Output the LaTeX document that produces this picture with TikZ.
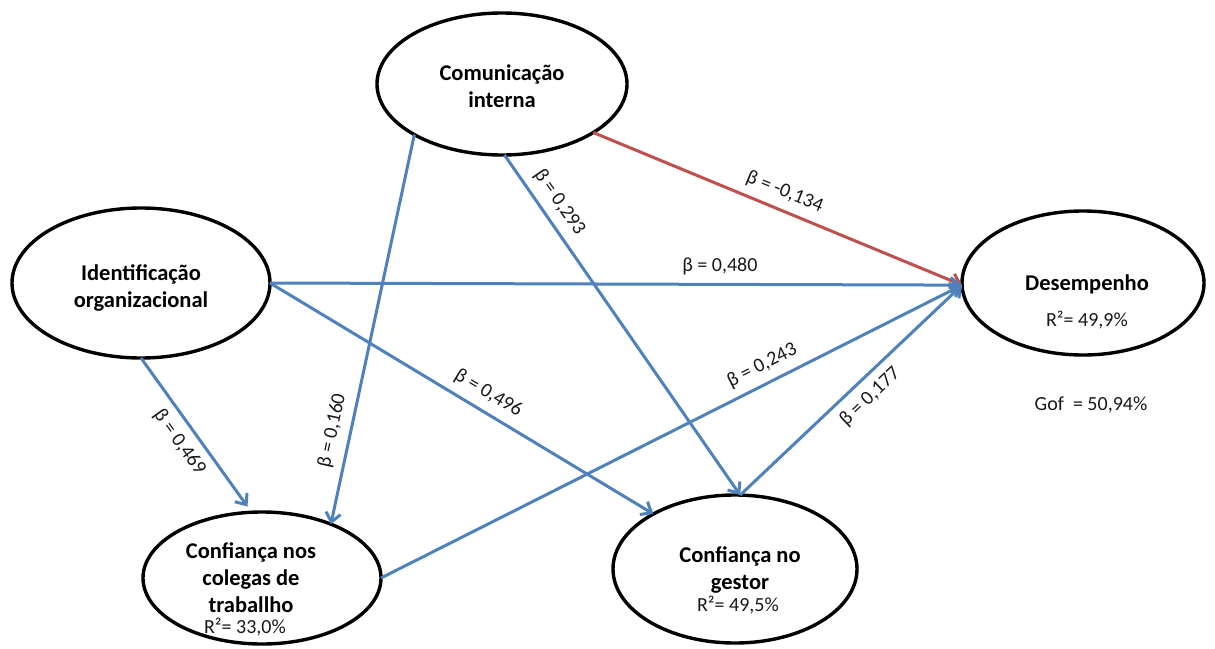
\documentclass[tikz,border=0pt]{standalone}
\usepackage{fontspec}
\setmainfont{Carlito}
\usetikzlibrary{arrows.meta,shapes.geometric}
\definecolor{pathblue}{RGB}{79,129,189}
\definecolor{pathred}{RGB}{192,80,77}
\tikzset{
  latent/.style={ellipse, draw=black, line width=3.4pt, inner sep=0pt, outer sep=0pt},
  vname/.style={font=\fontsize{22.5}{27}\selectfont\bfseries, align=center, text=black},
  stat/.style={font=\fontsize{20}{24}\selectfont, text=black!90},
  effect/.style={draw=pathblue, line width=3pt, -{Straight Barb[length=9pt,width=15pt]}},
  negeffect/.style={effect, draw=pathred},
  coef/.style={font=\fontsize{20}{24}\selectfont, sloped, inner sep=8pt, text=black!90},
}
\begin{document}
\begin{tikzpicture}[x=1pt,y=-1pt]
\useasboundingbox (0,0) rectangle (1215,648);
% latent variables
\node[latent, minimum width=250pt, minimum height=142pt] (ci) at (502,84) {};
\node[latent, minimum width=258pt, minimum height=150pt] (io) at (141,283) {};
\node[latent, minimum width=242pt, minimum height=144pt] (de) at (1083,283) {};
\node[latent, minimum width=238pt, minimum height=132pt] (cc) at (262,578) {};
\node[latent, minimum width=244pt, minimum height=148pt] (cg) at (735,569) {};
% labels
\node[vname] (tci) at (502,86) {Comunicação\\interna};
\node[vname] (tio) at (141,288) {Identificação\\organizacional};
\node[vname] (tde) at (1087,284) {Desempenho};
\node[stat] (rde) at (1087,320) {R²= 49,9\%};
\node[stat] (gof) at (1091,405) {Gof\ \ = 50,94\%};
\node[vname] (tcc) at (251,578) {Confiança nos\\colegas de\\traballho};
\node[stat] (rcc) at (245,627) {R²= 33,0\%};
\node[vname] (tcg) at (740,570) {Confiança no\\gestor};
\node[stat] (rcg) at (738,605) {R²= 49,5\%};
% paths
\draw[negeffect] (ci.-28) -- (de.181) node[coef, pos=0.5, above] {β = -0,134};
\draw[effect] (io.east) -- (de.181) node[coef, pos=0.65, above] {β = 0,480};
\draw[effect] (io.east) -- (cg.146) node[coef, pos=0.545, above] {β = 0,496};
\draw[effect, shorten >=7pt] (io.-90) -- (cc.99) node[coef, pos=0.48, below] {β = 0,469};
\draw[effect] (ci.-150) -- (cc.38) node[coef, pos=0.77, above] {β = 0,160};
\draw[effect] (ci.-88) -- (cg.86) node[coef, pos=0.17, above] {β = 0,293};
\draw[effect] (cc.east) -- (de.181) node[coef, pos=0.67, above] {β = 0,243};
\draw[effect] (cg.86) -- (de.181) node[coef, pos=0.53, below] {β = 0,177};
\end{tikzpicture}
\end{document}
